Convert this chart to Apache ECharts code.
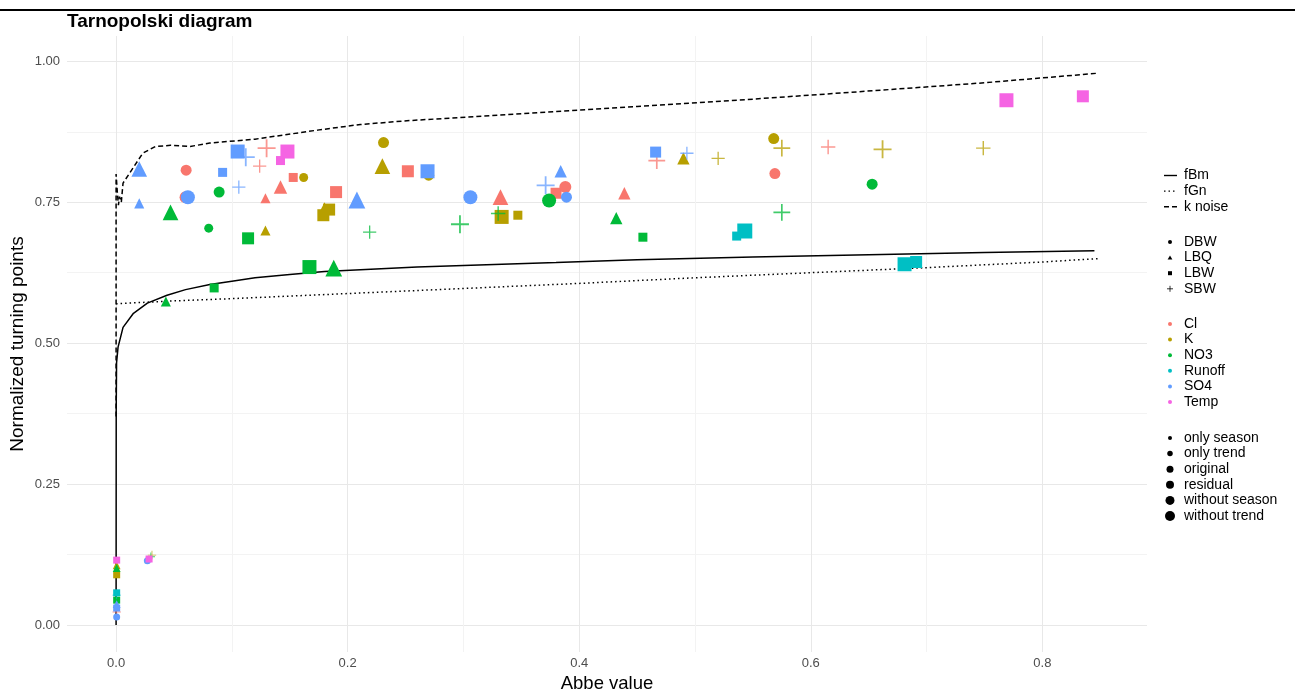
<!DOCTYPE html>
<html>
<head>
<meta charset="utf-8">
<script src="https://cdn.jsdelivr.net/npm/echarts@6/dist/echarts.min.js"></script>
<style>html,body{margin:0;padding:0;background:#fff}#c{width:1295px;height:691px}</style>
</head>
<body>
<div id="c"></div>
<script>
// ---------- DATA ----------
const xLabelTicks = [0, 0.2, 0.4, 0.6, 0.8];
const xGridTicks = [0, 0.1, 0.2, 0.3, 0.4, 0.5, 0.6, 0.7, 0.8];
const yLabelTicks = [0, 0.25, 0.5, 0.75, 1.0];
const yGridTicks = [0, 0.125, 0.25, 0.375, 0.5, 0.625, 0.75, 0.875, 1.0];

const lineNames = ['fBm', 'fGn', 'k noise'];
const methodNames = ['DBW', 'LBQ', 'LBW', 'SBW'];
const variableNames = ['Cl', 'K', 'NO3', 'Runoff', 'SO4', 'Temp'];
const versionNames = ['only season', 'only trend', 'original', 'residual', 'without season', 'without trend'];

// reference curves [Abbe value, normalized turning points]
const fBm = [[0,0],[0.0001,0.38],[0.0004,0.465],[0.0017,0.493],[0.006,0.528],[0.015,0.553],[0.027,0.571],
  [0.044,0.585],[0.06,0.595],[0.081,0.604],[0.1,0.610],[0.12,0.616],[0.15,0.622],[0.18,0.627],[0.22,0.631],
  [0.26,0.635],[0.3,0.638],[0.38,0.643],[0.45,0.648],[0.55,0.653],[0.65,0.657],[0.75,0.661],[0.845,0.664]];
const fGn = [[0,0.570],[0.05,0.575],[0.1,0.579],[0.2,0.588],[0.3,0.597],[0.4,0.606],[0.5,0.616],
  [0.6,0.625],[0.7,0.634],[0.8,0.644],[0.848,0.650]];
const kNoise = [[0,0.37],[0,0.80],[0.001,0.77],[0.002,0.745],[0.003,0.76],[0.0045,0.75],[0.006,0.784],
  [0.015,0.812],[0.023,0.837],[0.034,0.849],[0.047,0.851],[0.064,0.849],[0.081,0.855],[0.12,0.862],
  [0.174,0.878],[0.211,0.888],[0.254,0.895],[0.35,0.907],[0.45,0.920],[0.55,0.933],[0.634,0.945],
  [0.75,0.962],[0.848,0.979]];

// points: [Abbe value, turning points, method, version]
const cl = [
  [0.0005,0.023,'SBW','os'],[0.0605,0.807,'DBW','or'],[0.060,0.759,'DBW','re'],[0.130,0.846,'SBW','wt'],
  [0.124,0.814,'SBW','or'],[0.129,0.757,'LBQ','ot'],[0.142,0.777,'LBQ','re'],[0.153,0.794,'LBW','ot'],
  [0.190,0.768,'LBW','re'],[0.252,0.805,'LBW','re'],[0.332,0.759,'LBQ','ws'],[0.380,0.766,'LBW','or'],
  [0.388,0.777,'DBW','re'],[0.439,0.766,'LBQ','or'],[0.467,0.824,'SBW','ws'],[0.569,0.801,'DBW','or'],
  [0.615,0.848,'SBW','re']
];
const k = [
  [0.0005,0.089,'LBW','os'],[0.0005,0.106,'LBQ','os'],[0.031,0.124,'SBW','os'],[0.129,0.700,'LBQ','ot'],
  [0.162,0.794,'DBW','ot'],[0.180,0.741,'LBQ','ot'],[0.179,0.727,'LBW','re'],[0.184,0.737,'LBW','re'],
  [0.231,0.856,'DBW','or'],[0.230,0.814,'LBQ','ws'],[0.270,0.798,'DBW','or'],[0.333,0.724,'LBW','ws'],
  [0.347,0.727,'LBW','ot'],[0.490,0.828,'LBQ','or'],[0.520,0.828,'SBW','or'],[0.568,0.863,'DBW','or'],
  [0.575,0.846,'SBW','ws'],[0.662,0.844,'SBW','wt'],[0.749,0.846,'SBW','re']
];
const no3 = [
  [0.0005,0.101,'LBQ','os'],[0.0005,0.044,'LBW','os'],[0.030,0.121,'SBW','os'],[0.043,0.574,'LBQ','ot'],
  [0.047,0.732,'LBQ','ws'],[0.080,0.704,'DBW','ot'],[0.0847,0.598,'LBW','ot'],[0.089,0.768,'DBW','or'],
  [0.114,0.686,'LBW','re'],[0.167,0.635,'LBW','ws'],[0.188,0.633,'LBQ','wt'],[0.219,0.697,'SBW','or'],
  [0.297,0.711,'SBW','wt'],[0.330,0.730,'SBW','re'],[0.374,0.753,'DBW','ws'],[0.432,0.722,'LBQ','or'],
  [0.455,0.688,'LBW','ot'],[0.575,0.732,'SBW','ws'],[0.653,0.782,'DBW','or']
];
const runoff = [
  [0.0005,0.057,'LBW','os'],[0.0005,0.053,'SBW','os'],[0.536,0.690,'LBW','ot'],[0.543,0.699,'LBW','wt'],
  [0.681,0.640,'LBW','ws'],[0.691,0.644,'LBW','re']
];
const so4 = [
  [0.0005,0.014,'DBW','os'],[0.0005,0.030,'LBW','os'],[0.0005,0.037,'LBQ','os'],[0.027,0.114,'DBW','os'],
  [0.020,0.809,'LBQ','ws'],[0.020,0.748,'LBQ','ot'],[0.062,0.759,'DBW','ws'],[0.092,0.803,'LBW','ot'],
  [0.105,0.840,'LBW','ws'],[0.112,0.830,'SBW','wt'],[0.106,0.777,'SBW','or'],[0.208,0.754,'LBQ','wt'],
  [0.269,0.805,'LBW','ws'],[0.306,0.759,'DBW','ws'],[0.371,0.780,'SBW','wt'],[0.384,0.805,'LBQ','or'],
  [0.389,0.759,'DBW','or'],[0.466,0.839,'LBW','or'],[0.493,0.837,'SBW','or']
];
const temp = [
  [0.0005,0.115,'LBW','os'],[0.0285,0.117,'LBW','os'],[0.142,0.824,'LBW','ot'],[0.148,0.840,'LBW','ws'],
  [0.769,0.931,'LBW','ws'],[0.835,0.938,'LBW','re']
];

// ---------- STYLE ----------
const FONT = '"Liberation Sans", Arial, sans-serif';
const colors = ['#F8766D', '#B79F00', '#00BA38', '#00BFC4', '#619CFF', '#F564E3'];
const plusPath = 'path://M4.5,0h1v10h-1z M0,4.5h10v1h-10z';
const symbolOf = { DBW: 'circle', LBQ: 'triangle', LBW: 'rect', SBW: plusPath };
const sizeOf = { os: 7, ot: 9, or: 11, re: 12, ws: 14, wt: 15 };
const shapeScale = { DBW: 1, LBQ: 1.12, LBW: 1, SBW: 1.2 };
const legendSize = [4, 5.5, 7, 8, 9, 10];
const lineDash = ['solid', [1.5, 3], [5, 3]];
const gridColors = ['#E8E8E8', '#F3F3F3'];

const pointSets = [cl, k, no3, runoff, so4, temp];

const chart = echarts.init(document.getElementById('c'), null, { renderer: 'canvas' });

const series = [];
[fBm, fGn, kNoise].forEach((d, i) => {
  series.push({
    name: lineNames[i], type: 'line', data: d, showSymbol: false, symbol: 'none',
    lineStyle: { color: '#000', width: 1.5, type: lineDash[i] }, z: 2, silent: true, animation: false
  });
});
pointSets.forEach((pts, i) => {
  series.push({
    name: variableNames[i], type: 'scatter', z: 3, animation: false,
    data: pts.map(p => {
      const isPlus = p[2] === 'SBW';
      return {
        value: [p[0], p[1]],
        symbol: symbolOf[p[2]],
        symbolSize: sizeOf[p[3]] * shapeScale[p[2]],
        itemStyle: { color: colors[i], opacity: isPlus ? 0.75 : 1 }
      };
    })
  });
});

// legend graphics
const graphic = [];
graphic.push({ type: 'line', shape: { x1: 0, y1: 10, x2: 1295, y2: 10 }, style: { stroke: '#000', lineWidth: 2 } });
const LX = 1184, IX = 1170, STEP = 15.6;
const txt = (t, y) => ({ type: 'text', x: LX, y: y, style: { text: t, font: '14px ' + FONT, fill: '#000', textVerticalAlign: 'middle' } });
lineNames.forEach((n, i) => {
  const y = 175.5 + i * STEP;
  graphic.push({ type: 'line', shape: { x1: 1164, y1: y, x2: 1177, y2: y },
    style: { stroke: '#000', lineWidth: 1.4, lineDash: lineDash[i] === 'solid' ? null : lineDash[i] } });
  graphic.push(txt(n, y));
});
methodNames.forEach((n, i) => {
  const y = 242 + i * STEP;
  if (n === 'DBW') graphic.push({ type: 'circle', shape: { cx: IX, cy: y, r: 2 }, style: { fill: '#000' } });
  if (n === 'LBQ') graphic.push({ type: 'polygon', shape: { points: [[IX, y - 2.2], [IX + 2.4, y + 1.8], [IX - 2.4, y + 1.8]] }, style: { fill: '#000' } });
  if (n === 'LBW') graphic.push({ type: 'rect', shape: { x: IX - 2, y: y - 2, width: 4, height: 4 }, style: { fill: '#000' } });
  if (n === 'SBW') {
    graphic.push({ type: 'line', shape: { x1: IX - 3, y1: y, x2: IX + 3, y2: y }, style: { stroke: '#000', lineWidth: 0.8 } });
    graphic.push({ type: 'line', shape: { x1: IX, y1: y - 3, x2: IX, y2: y + 3 }, style: { stroke: '#000', lineWidth: 0.8 } });
  }
  graphic.push(txt(n, y));
});
variableNames.forEach((n, i) => {
  const y = 324 + i * STEP;
  graphic.push({ type: 'circle', shape: { cx: IX, cy: y, r: 2 }, style: { fill: colors[i] } });
  graphic.push(txt(n, y));
});
versionNames.forEach((n, i) => {
  const y = 438 + i * STEP;
  graphic.push({ type: 'circle', shape: { cx: IX, cy: y, r: legendSize[i] / 2 }, style: { fill: '#000' } });
  graphic.push(txt(n, y));
});
graphic.push({ type: 'text', x: 67, y: 22, style: { text: 'Tarnopolski diagram', font: 'bold 19px ' + FONT, fill: '#000', textVerticalAlign: 'middle' } });

chart.setOption({
  backgroundColor: '#fff',
  animation: false,
  grid: { left: 67, right: 148, top: 36, bottom: 39, containLabel: false, outerBoundsMode: 'none' },
  xAxis: {
    type: 'value', min: -0.0424, max: 0.8904,
    name: 'Abbe value', nameLocation: 'middle', nameGap: 22, nameMoveOverlap: false,
    nameTextStyle: { color: '#000', fontSize: 18.5, fontFamily: FONT },
    axisLine: { show: false },
    axisTick: { show: false, customValues: xGridTicks },
    axisLabel: { customValues: xLabelTicks, formatter: v => v.toFixed(1), color: '#4D4D4D', fontSize: 13, fontFamily: FONT, margin: 5 },
    splitLine: { show: true, lineStyle: { color: gridColors, width: 1 } }
  },
  yAxis: {
    type: 'value', min: -0.048, max: 1.045,
    name: 'Normalized turning points', nameLocation: 'middle', nameGap: 40, nameRotate: 90, nameMoveOverlap: false,
    nameTextStyle: { color: '#000', fontSize: 19, fontFamily: FONT },
    axisLine: { show: false },
    axisTick: { show: false, customValues: yGridTicks },
    axisLabel: { customValues: yLabelTicks, formatter: v => v.toFixed(2), color: '#4D4D4D', fontSize: 13, fontFamily: FONT, margin: 7 },
    splitLine: { show: true, lineStyle: { color: gridColors, width: 1 } }
  },
  series: series,
  graphic: graphic
});
</script>
</body>
</html>
